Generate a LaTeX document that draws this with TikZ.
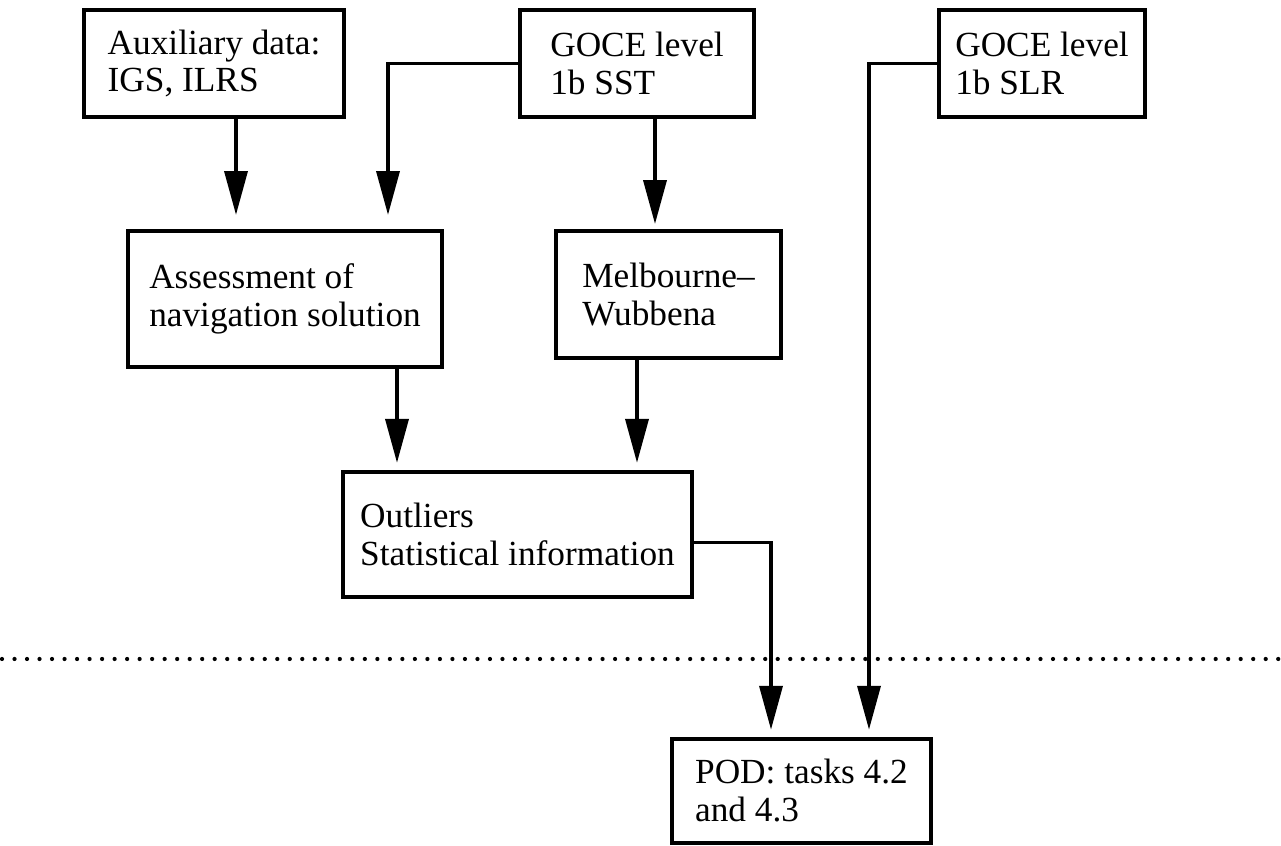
\documentclass[tikz,border=0pt]{standalone}
\usepackage{fontspec}
\setmainfont{Liberation Serif}
\usepackage{tikz}
\usetikzlibrary{arrows.meta}

\begin{document}
\begin{tikzpicture}[x=1.25cm, y=1.25cm, >={Triangle[length=15.6pt,width=8.2pt]},
  every node/.style={font=\fontsize{12.55}{13.5}\selectfont},
  box/.style 2 args={draw, line width=1.5pt, align=left, inner sep=0pt, minimum width=#1, minimum height=#2},
  flow/.style={->, line width=1.2pt, shorten >=0.09cm}]

\useasboundingbox (0,0) rectangle (12.81,8.46);

% Input data
\node[box={3.25cm}{1.34cm}] at (2.14,7.825) (aux) {Auxiliary data:\\IGS, ILRS};
\node[box={2.925cm}{1.34cm}] at (6.37,7.825) (sst) {GOCE level\\1b SST};
\node[box={2.575cm}{1.34cm}] at (10.42,7.825) (slr) {GOCE level\\1b SLR};

% Processing
\node[box={3.925cm}{1.7cm}] at (2.85,5.47) (assess) {Assessment of\\navigation solution};
\node[box={2.81cm}{1.59cm}] at (6.685,5.515) (melb) {Melbourne--\\Wubbena};

% Results
\node[box={4.36cm}{1.56cm}] at (5.175,3.115) (outl) {Outliers\\Statistical information};

% POD
\node[box={3.24cm}{1.3cm}] at (8.015,0.55) (pod) {POD: tasks 4.2\\and 4.3};

% Connections
\draw[flow,shorten >=0.175cm] (aux.south -| 2.36,0) -- (assess.north -| 2.36,0);
\draw[flow,shorten >=0.175cm] (sst.west) -| (3.88,0 |- assess.north);
\draw[flow,shorten >=0.06cm] (sst.south -| 6.55,0) -- (melb.north -| 6.55,0);
\draw[flow] (assess.south -| 3.97,0) -- (outl.north -| 3.97,0);
\draw[flow] (melb.south -| 6.37,0) -- (outl.north -| 6.37,0);
\draw[flow] ([yshift=-0.1cm]outl.east) -| (7.71,0 |- pod.north);
\draw[flow] (slr.west) -| (8.69,0 |- pod.north);

% Separator
\draw[line width=1.5pt, line cap=round, dash pattern=on 0pt off 4.45pt] (0.02,1.87) -- (12.81,1.87);

\end{tikzpicture}
\end{document}
